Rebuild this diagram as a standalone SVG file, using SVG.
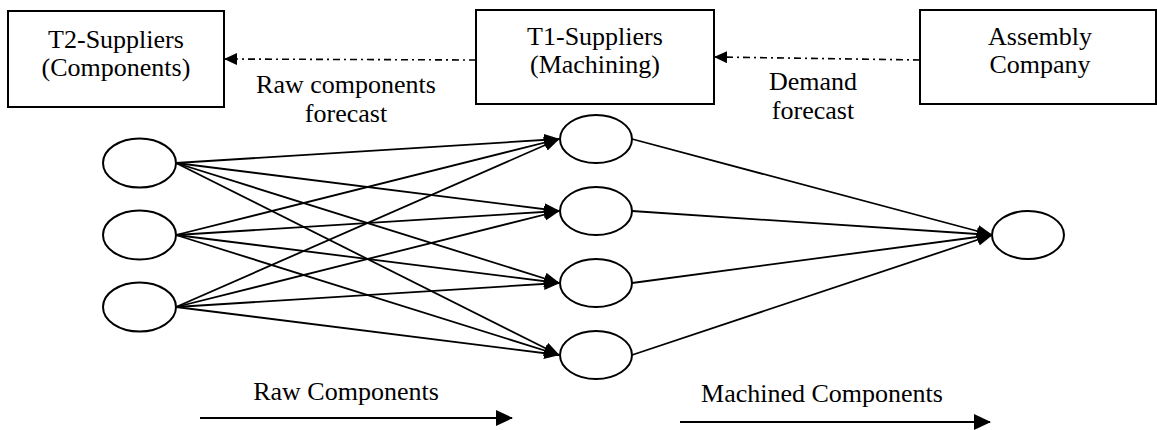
<svg xmlns="http://www.w3.org/2000/svg" width="1157" height="430" viewBox="0 0 1157 430">
  <style>
    .box { fill: #fff; stroke: #000; stroke-width: 2; }
    .ell { fill: #fff; stroke: #000; stroke-width: 2; }
    .txt { font-family: "Liberation Serif", "Times New Roman", serif; font-size: 26px; fill: #000; text-anchor: middle; }
    .ln { stroke: #000; stroke-width: 1.8; fill: none; }
    .dd { stroke: #000; stroke-width: 1.6; fill: none; stroke-dasharray: 7 4 2 4; }
  </style>
  <defs>
    <marker id="ah" viewBox="0 0 16 12" refX="15" refY="6" markerUnits="userSpaceOnUse" markerWidth="16" markerHeight="12" orient="auto">
      <path d="M0,0 L16,6 L0,12 Z" fill="#000"/>
    </marker>
    <marker id="ahb" viewBox="0 0 17 16" refX="16" refY="8" markerUnits="userSpaceOnUse" markerWidth="17" markerHeight="16" orient="auto">
      <path d="M0,0 L17,8 L0,16 Z" fill="#000"/>
    </marker>
    <marker id="ahs" viewBox="0 0 13 12" refX="12" refY="6" markerUnits="userSpaceOnUse" markerWidth="13" markerHeight="12" orient="auto">
      <path d="M0,0 L13,6 L0,12 Z" fill="#000"/>
    </marker>
  </defs>

  <g id="connectors">
    <line class="dd" x1="476" y1="60" x2="225" y2="59" marker-end="url(#ahs)"/>
    <line class="dd" x1="920" y1="60" x2="715" y2="57" marker-end="url(#ahs)"/>

    <line class="ln" x1="176" y1="163" x2="559" y2="139" marker-end="url(#ah)"/>
    <line class="ln" x1="176" y1="163" x2="559" y2="211" marker-end="url(#ah)"/>
    <line class="ln" x1="176" y1="163" x2="559" y2="283" marker-end="url(#ah)"/>
    <line class="ln" x1="176" y1="163" x2="559" y2="355" marker-end="url(#ah)"/>

    <line class="ln" x1="176" y1="235" x2="559" y2="139" marker-end="url(#ah)"/>
    <line class="ln" x1="176" y1="235" x2="559" y2="211" marker-end="url(#ah)"/>
    <line class="ln" x1="176" y1="235" x2="559" y2="283" marker-end="url(#ah)"/>
    <line class="ln" x1="176" y1="235" x2="559" y2="355" marker-end="url(#ah)"/>

    <line class="ln" x1="176" y1="307" x2="559" y2="139" marker-end="url(#ah)"/>
    <line class="ln" x1="176" y1="307" x2="559" y2="211" marker-end="url(#ah)"/>
    <line class="ln" x1="176" y1="307" x2="559" y2="283" marker-end="url(#ah)"/>
    <line class="ln" x1="176" y1="307" x2="559" y2="355" marker-end="url(#ah)"/>

    <line class="ln" x1="632" y1="139" x2="992" y2="235" marker-end="url(#ah)"/>
    <line class="ln" x1="632" y1="211" x2="992" y2="235" marker-end="url(#ah)"/>
    <line class="ln" x1="632" y1="283" x2="992" y2="235" marker-end="url(#ah)"/>
    <line class="ln" x1="632" y1="355" x2="992" y2="235" marker-end="url(#ah)"/>

    <line class="ln" x1="200" y1="418" x2="512" y2="418" marker-end="url(#ahb)"/>
    <line class="ln" x1="680" y1="422" x2="990" y2="422" marker-end="url(#ahb)"/>
  </g>

  <g id="t2">
    <rect class="box" x="8" y="11" width="216" height="96"/>
    <text class="txt" x="116" y="48">T2-Suppliers</text>
    <text class="txt" x="116" y="76">(Components)</text>
  </g>
  <g id="t1">
    <rect class="box" x="476" y="10" width="238" height="94"/>
    <text class="txt" x="595" y="45">T1-Suppliers</text>
    <text class="txt" x="595" y="73">(Machining)</text>
  </g>
  <g id="assembly">
    <rect class="box" x="920" y="10" width="236" height="94"/>
    <text class="txt" x="1040" y="45">Assembly</text>
    <text class="txt" x="1040" y="73">Company</text>
  </g>

  <g id="label-raw-forecast">
    <text class="txt" x="346" y="93">Raw components</text>
    <text class="txt" x="346" y="122">forecast</text>
  </g>
  <g id="label-demand-forecast">
    <text class="txt" x="813" y="90">Demand</text>
    <text class="txt" x="813" y="119">forecast</text>
  </g>

  <g id="s1"><ellipse class="ell" cx="139.5" cy="163" rx="36.5" ry="24.5"/></g>
  <g id="s2"><ellipse class="ell" cx="139.5" cy="235" rx="36.5" ry="24.5"/></g>
  <g id="s3"><ellipse class="ell" cx="139.5" cy="307" rx="36.5" ry="24.5"/></g>

  <g id="m1"><ellipse class="ell" cx="596" cy="139" rx="36" ry="24"/></g>
  <g id="m2"><ellipse class="ell" cx="596" cy="211" rx="36" ry="24"/></g>
  <g id="m3"><ellipse class="ell" cx="596" cy="283" rx="36" ry="24"/></g>
  <g id="m4"><ellipse class="ell" cx="596" cy="355" rx="36" ry="24"/></g>

  <g id="a1"><ellipse class="ell" cx="1028" cy="235" rx="36" ry="24"/></g>

  <g id="label-raw">
    <text class="txt" x="346" y="400">Raw Components</text>
  </g>
  <g id="label-machined">
    <text class="txt" x="822" y="402">Machined Components</text>
  </g>
</svg>
